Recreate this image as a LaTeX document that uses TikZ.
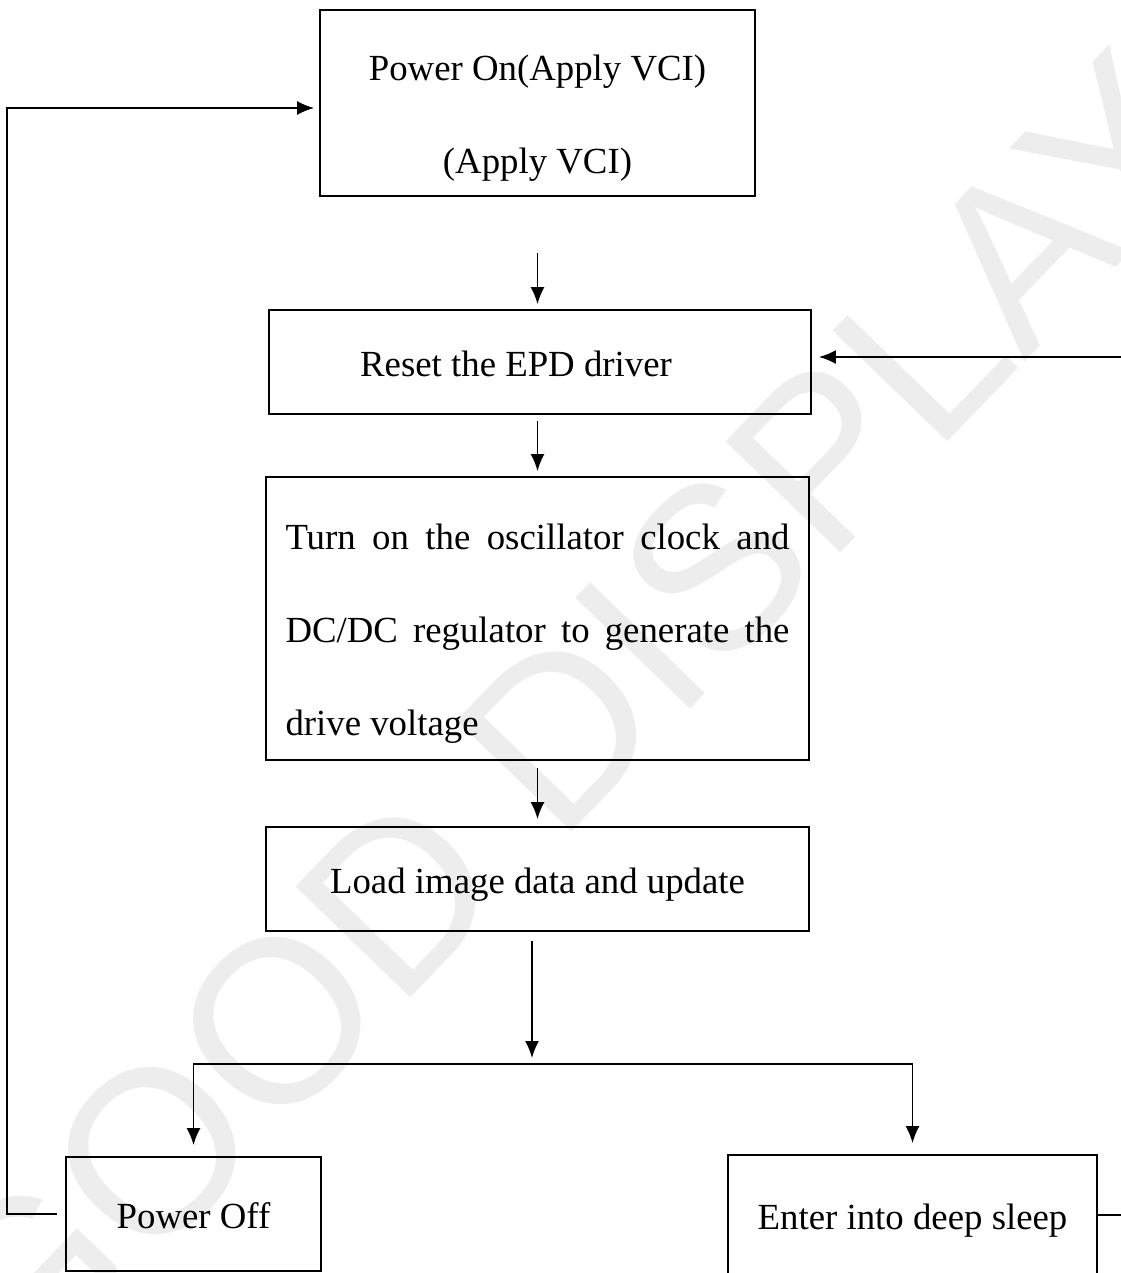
\documentclass[tikz,border=0pt]{standalone}
\usepackage{fontspec}
\setmainfont{Liberation Serif}
\newfontfamily\wmfont{Liberation Sans}
\usetikzlibrary{arrows.meta}
\newcommand{\padtop}{\rule{0pt}{28pt}}
\begin{document}
\begin{tikzpicture}[x=0.5pt, y=-0.5pt, line width=0.9pt,
        flowbox/.style={draw, inner sep=0pt, font=\fontsize{18.4pt}{46.5pt}\selectfont},
        oneline/.style={flowbox, text height=14.5pt, text depth=0pt},
        arr/.style={-{Latex[length=8.5pt,width=7pt]}},
        watermark/.style={text=black!7, font=\wmfont\fontsize{116pt}{116pt}\selectfont, inner sep=0pt}]
        \useasboundingbox (0,0) rectangle (1120,1273);
        \node[watermark, anchor=base west, rotate=46] (wm) at (21,1402) {GOOD DISPLAY};
        \node[flowbox, minimum width=217.5pt, minimum height=93pt, align=center] (pon) at (537.5,103) {\padtop Power On(Apply VCI)\\(Apply VCI)};
        \node[oneline, minimum width=271pt, minimum height=52pt] (reset) at (540,362) {Reset the EPD driver\hspace*{24pt}};
        \node[flowbox, text width=252pt, inner xsep=9.75pt, minimum height=141.5pt, align=justify] (osc) at (537.5,618.5) {\padtop Turn on the oscillator clock and\linebreak DC/DC regulator to generate the\linebreak drive voltage};
        \node[oneline, minimum width=271.5pt, minimum height=52pt] (load) at (537.5,879) {Load image data and update};
        \node[oneline, minimum width=127.5pt, minimum height=57pt] (off) at (193.5,1214) {Power Off};
        \node[oneline, minimum width=184.5pt, minimum height=60pt] (sleep) at (912.5,1215) {Enter into deep sleep};
        \coordinate (split) at (532,1064);
        \draw[arr, shorten <=28pt, shorten >=2.5pt] (pon.south) -- (pon.south |- reset.north);
        \draw[arr, shorten <=3pt, shorten >=2.5pt] (osc.north |- reset.south) -- (osc.north);
        \draw[arr, shorten <=3.5pt, shorten >=3.5pt] (osc.south) -- (load.north);
        \draw[arr, shorten <=4.5pt, shorten >=3pt] (split |- load.south) -- (split);
        \draw[arr, shorten >=5.5pt] (split) -| (off.north);
        \draw[arr, shorten >=5.5pt] (split) -| (sleep.north);
        \draw[arr, shorten <=4pt, shorten >=2.5pt] (off.west) -- ++(-58,0) |- ([yshift=-2.5pt]pon.west);
        \draw[arr, shorten >=3.5pt] (sleep.east) -- ++(60,0) |- ([yshift=2.5pt]reset.east);
\end{tikzpicture}
\end{document}
